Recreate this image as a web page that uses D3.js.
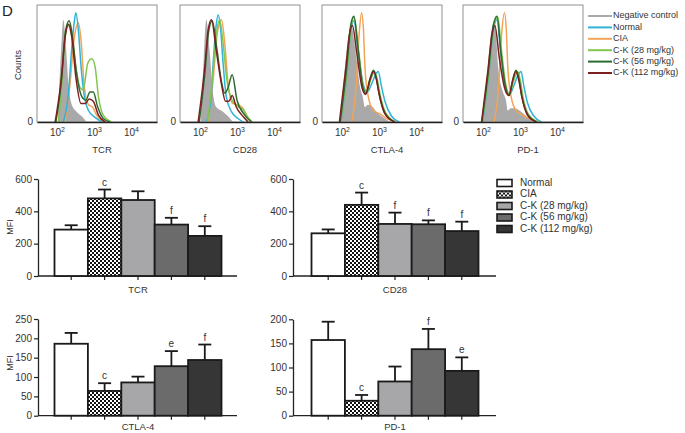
<!DOCTYPE html>
<html>
<head>
<meta charset="utf-8">
<script src="https://cdn.jsdelivr.net/npm/d3@7"></script>
<style>
body { margin: 0; background: #fff; }
svg { font-family: "Liberation Sans", Arial, sans-serif; }
</style>
</head>
<body>
<svg id="chart" width="685" height="433"></svg>
<script>
// ---- histogram data: [log10(intensity), % of max count] ----
const negTCR    = [[2.02,0],[2.11,62],[2.17,89],[2.23,71],[2.31,33],[2.40,15],[2.53,9],[2.67,5],[2.80,0]];
const normalTCR = [[2.17,0],[2.31,25],[2.40,65],[2.47,88],[2.51,95],[2.58,79],[2.65,48],[2.74,22],[2.85,10],[3.03,4],[3.21,0]];
const ciaTCR    = [[2.22,0],[2.35,33],[2.47,74],[2.58,86],[2.65,71],[2.74,30],[2.85,15],[2.96,13],[3.07,6],[3.30,0]];
const ck28TCR   = [[2.04,0],[2.13,33],[2.22,74],[2.31,84],[2.40,74],[2.51,48],[2.62,30],[2.71,28],[2.83,51],[2.94,55],[3.03,48],[3.12,22],[3.25,6],[3.48,0]];
const ck56TCR   = [[1.97,0],[2.13,39],[2.23,79],[2.33,88],[2.41,76],[2.53,42],[2.67,22],[2.78,19],[2.89,26],[2.98,26],[3.10,13],[3.25,3],[3.43,0]];
const ck112TCR  = [[1.95,0],[2.11,36],[2.22,74],[2.31,85],[2.40,74],[2.51,39],[2.65,16],[2.76,16],[2.87,20],[2.98,18],[3.12,6],[3.30,0]];

const negCD28    = [[2.02,0],[2.10,55],[2.17,89],[2.26,62],[2.35,25],[2.44,13],[2.62,9],[2.76,5],[2.89,0]];
const normalCD28 = [[2.17,0],[2.30,20],[2.35,48],[2.43,82],[2.49,93],[2.56,80],[2.62,53],[2.71,22],[2.85,9],[3.03,3],[3.16,0]];
const ciaCD28    = [[2.22,0],[2.35,35],[2.47,78],[2.58,89],[2.67,68],[2.76,33],[2.89,16],[3.03,15],[3.16,12],[3.30,3],[3.40,0]];
const ck28CD28   = [[2.20,0],[2.33,35],[2.45,78],[2.53,89],[2.62,70],[2.72,38],[2.85,20],[3.00,14],[3.16,11],[3.32,3],[3.42,0]];
const ck56CD28   = [[1.98,0],[2.13,42],[2.23,78],[2.33,88],[2.45,65],[2.58,35],[2.67,25],[2.76,30],[2.87,41],[3.00,19],[3.21,6],[3.39,0]];
const ck112CD28  = [[1.95,0],[2.13,48],[2.22,80],[2.31,89],[2.44,62],[2.58,33],[2.69,18],[2.78,18],[2.87,23],[2.98,13],[3.16,5],[3.30,0]];

const negCTLA4    = [[1.95,0],[2.08,48],[2.17,74],[2.26,84],[2.33,70],[2.40,53],[2.49,30],[2.56,22],[2.62,13],[2.70,15],[2.80,14],[2.93,9],[3.07,5],[3.30,0]];
const normalCTLA4 = [[1.97,0],[2.14,44],[2.25,82],[2.32,88],[2.44,60],[2.57,33],[2.68,26],[2.80,33],[2.92,42],[2.98,44],[3.06,32],[3.16,18],[3.34,5],[3.55,0]];
const ciaCTLA4    = [[2.26,0],[2.38,30],[2.46,75],[2.53,95],[2.58,80],[2.62,48],[2.71,22],[2.85,10],[3.03,7],[3.21,3],[3.48,0]];
const ck28CTLA4   = [[1.96,0],[2.14,45],[2.25,84],[2.33,91],[2.45,62],[2.57,31],[2.66,25],[2.77,36],[2.88,44],[2.96,36],[3.03,24],[3.18,8],[3.45,0]];
const ck56CTLA4   = [[1.95,0],[2.13,48],[2.24,85],[2.32,92],[2.44,62],[2.56,31],[2.65,25],[2.75,37],[2.85,45],[2.93,38],[3.00,25],[3.16,8],[3.43,0]];
const ck112CTLA4  = [[1.93,0],[2.10,46],[2.21,78],[2.28,84],[2.40,60],[2.54,30],[2.64,24],[2.75,36],[2.85,44],[2.93,37],[3.00,25],[3.16,7],[3.42,0]];

const negPD1    = [[1.97,0],[2.13,48],[2.23,80],[2.31,88],[2.36,72],[2.41,48],[2.53,27],[2.62,19],[2.67,10],[2.75,12],[2.85,12],[3.03,9],[3.21,4],[3.48,0]];
const normalPD1 = [[1.99,0],[2.16,42],[2.29,82],[2.38,89],[2.48,60],[2.61,31],[2.72,24],[2.84,32],[2.95,41],[3.03,44],[3.10,32],[3.20,17],[3.38,5],[3.58,0]];
const ciaPD1    = [[2.30,0],[2.42,30],[2.50,75],[2.58,95],[2.63,80],[2.67,48],[2.76,22],[2.89,10],[3.07,6],[3.25,3],[3.52,0]];
const ck28PD1   = [[1.98,0],[2.16,44],[2.29,84],[2.40,91],[2.50,62],[2.62,32],[2.72,24],[2.83,36],[2.94,44],[3.01,36],[3.08,22],[3.22,7],[3.48,0]];
const ck56PD1   = [[1.97,0],[2.15,45],[2.28,84],[2.38,92],[2.48,62],[2.60,32],[2.71,23],[2.80,36],[2.89,45],[2.97,38],[3.05,22],[3.20,7],[3.45,0]];
const ck112PD1  = [[1.96,0],[2.13,44],[2.24,76],[2.32,84],[2.44,56],[2.58,30],[2.70,23],[2.80,36],[2.89,44],[2.97,36],[3.05,22],[3.20,6],[3.44,0]];

const histSeries = ["Negative control", "Normal", "CIA", "C-K (28 mg/kg)", "C-K (56 mg/kg)", "C-K (112 mg/kg)"];
const histMarkers = ["TCR", "CD28", "CTLA-4", "PD-1"];
const histTicks = [2, 3, 4];

// ---- bar data (MFI) ----
const groups = ["Normal", "CIA", "C-K (28 mg/kg)", "C-K (56 mg/kg)", "C-K (112 mg/kg)"];
const tcrMean  = [287, 480, 470, 318, 248];
const tcrErr   = [314, 535, 524, 360, 308];
const tcrSig   = ["", "c", "", "f", "f"];
const cd28Mean = [264, 440, 322, 320, 278];
const cd28Err  = [288, 516, 392, 344, 336];
const cd28Sig  = ["", "c", "f", "f", "f"];
const ctlaMean = [186, 64, 86, 128, 144];
const ctlaErr  = [214, 84, 101, 167, 184];
const ctlaSig  = ["", "c", "", "e", "f"];
const pd1Mean  = [157, 31, 71, 138, 93];
const pd1Err   = [195, 43, 102, 180, 121];
const pd1Sig   = ["", "c", "", "f", "e"];

const lineColors = ["#a9a9a9", "#2fb3d6", "#f2a457", "#82c650", "#2d6a30", "#7b2020"];
const barFills = ["#ffffff", "url(#checks)", "#a7a7a9", "#6b6b6b", "#363636"];

const svg = d3.select("#chart");

// checkerboard pattern for CIA
const pat = svg.append("defs").append("pattern")
    .attr("id", "checks")
    .attr("width", 4).attr("height", 4)
    .attr("patternUnits", "userSpaceOnUse");
pat.append("rect").attr("width", 4).attr("height", 4).attr("fill", "#fff");
pat.append("rect").attr("width", 2).attr("height", 2).attr("fill", "#111");
pat.append("rect").attr("x", 2).attr("y", 2).attr("width", 2).attr("height", 2).attr("fill", "#111");

// ---------------- histograms ----------------
const curvesByMarker = [
    [negTCR, normalTCR, ciaTCR, ck28TCR, ck56TCR, ck112TCR],
    [negCD28, normalCD28, ciaCD28, ck28CD28, ck56CD28, ck112CD28],
    [negCTLA4, normalCTLA4, ciaCTLA4, ck28CTLA4, ck56CTLA4, ck112CTLA4],
    [negPD1, normalPD1, ciaPD1, ck28PD1, ck56PD1, ck112PD1]
];
const panelLeft = [37, 180, 322, 463];
const pw = 120;

const hx = d3.scaleLinear().domain([2 - 20 / 37, 2 + 100 / 37]).range([0, pw]);
const hy = d3.scaleLinear().domain([0, 100]).range([122, 7]);

const area = d3.area()
    .x(d => hx(d[0])).y0(hy(0)).y1(d => hy(d[1]))
    .curve(d3.curveMonotoneX);
const line = d3.line()
    .x(d => hx(d[0])).y(d => hy(d[1]))
    .curve(d3.curveMonotoneX);

const drawOrder = [2, 1, 3, 4, 5]; // lines on top of the grey fill

histMarkers.forEach((m, i) => {
    const g = svg.append("g").attr("transform", `translate(${panelLeft[i]},0)`);

    g.append("rect")
        .attr("x", 0).attr("y", 5).attr("width", pw).attr("height", 117)
        .attr("fill", "none").attr("stroke", "#777").attr("stroke-width", 0.8);

    const curves = curvesByMarker[i];
    g.append("path").datum(curves[0])
        .attr("d", area).attr("fill", lineColors[0]);

    drawOrder.forEach(k => {
        g.append("path").datum(curves[k])
            .attr("d", line)
            .attr("fill", "none")
            .attr("stroke", lineColors[k])
            .attr("stroke-width", 1.5);
    });

    // x axis
    const ax = g.append("g").attr("transform", "translate(0,122)")
        .call(d3.axisBottom(hx).tickValues(histTicks).tickSize(0).tickPadding(7).tickFormat(""));
    ax.select(".domain").attr("stroke", "#222").attr("stroke-width", 1.3);
    ax.selectAll(".tick text")
        .attr("font-size", 10).attr("fill", "#333")
        .each(function(d) {
            const t = d3.select(this);
            t.append("tspan").text("10");
            t.append("tspan").attr("dy", -4).attr("font-size", 7).text(d);
        });

    g.append("text")
        .attr("x", -4).attr("y", 122)
        .attr("text-anchor", "end").attr("dominant-baseline", "middle")
        .attr("font-size", 10).attr("fill", "#333").text("0");

    g.append("text")
        .attr("x", pw / 2 + 5).attr("y", 153)
        .attr("text-anchor", "middle")
        .attr("font-size", 9.5).attr("fill", "#333").text(m);
});

svg.append("text")
    .attr("transform", "translate(21,65) rotate(-90)")
    .attr("text-anchor", "middle")
    .attr("font-size", 9.5).attr("fill", "#333").text("Counts");

svg.append("text")
    .attr("x", 2).attr("y", 16)
    .attr("font-size", 15).attr("fill", "#222").text("D");

// histogram legend
const hl = svg.append("g").attr("transform", "translate(588,16)");
histSeries.forEach((s, i) => {
    const row = hl.append("g").attr("transform", `translate(0,${i * 11.4})`);
    row.append("line")
        .attr("x1", 0).attr("x2", 24)
        .attr("stroke", lineColors[i]).attr("stroke-width", 2);
    row.append("text")
        .attr("x", 25).attr("dominant-baseline", "middle")
        .attr("font-size", 9).attr("fill", "#333").text(s);
});

// ---------------- bar charts ----------------
function barChart(cfg) {
    const g = svg.append("g");
    const y = d3.scaleLinear().domain([0, cfg.max]).range([cfg.y0, cfg.yTop]);
    const x = d3.scaleBand().domain(groups)
        .range([cfg.x0 + cfg.gap, cfg.x0 + cfg.gap + 5 * cfg.bw]).padding(0);

    const yAx = g.append("g").attr("transform", `translate(${cfg.x0},0)`)
        .call(d3.axisLeft(y).tickValues(d3.range(0, cfg.max + 1, cfg.step))
            .tickSize(4).tickPadding(2).tickSizeOuter(0));
    yAx.select(".domain").attr("stroke", "#222").attr("stroke-width", 1.3);
    yAx.selectAll(".tick line").attr("stroke", "#222").attr("stroke-width", 1.2);
    yAx.selectAll(".tick text").attr("font-size", 10).attr("fill", "#333")
        .attr("font-family", "Liberation Sans, Arial, sans-serif");

    const xAx = g.append("g").attr("transform", `translate(0,${cfg.y0})`)
        .call(d3.axisBottom(x).tickSize(4).tickFormat(""));
    xAx.select(".domain").remove();
    xAx.selectAll(".tick line").attr("stroke", "#222").attr("stroke-width", 1.2);
    g.append("line")
        .attr("x1", cfg.x0).attr("x2", cfg.x0 + cfg.axisLen)
        .attr("y1", cfg.y0).attr("y2", cfg.y0)
        .attr("stroke", "#222").attr("stroke-width", 1.3);

    // error bars first so bar outline sits on top
    groups.forEach((grp, i) => {
        const cx = x(grp) + x.bandwidth() / 2;
        g.append("line")
            .attr("x1", cx).attr("x2", cx)
            .attr("y1", y(cfg.mean[i])).attr("y2", y(cfg.err[i]))
            .attr("stroke", "#1a1a1a").attr("stroke-width", 1.8);
        g.append("line")
            .attr("x1", cx - 6.5).attr("x2", cx + 6.5)
            .attr("y1", y(cfg.err[i])).attr("y2", y(cfg.err[i]))
            .attr("stroke", "#1a1a1a").attr("stroke-width", 1.8);
        if (cfg.sig[i]) {
            g.append("text")
                .attr("x", cx).attr("y", y(cfg.err[i]) - 4)
                .attr("text-anchor", "middle")
                .attr("font-size", 10).attr("fill", "#333").text(cfg.sig[i]);
        }
    });

    g.selectAll(".bar").data(groups).enter().append("rect")
        .attr("x", d => x(d))
        .attr("y", (d, i) => y(cfg.mean[i]))
        .attr("width", x.bandwidth())
        .attr("height", (d, i) => cfg.y0 - y(cfg.mean[i]))
        .attr("fill", (d, i) => barFills[i])
        .attr("stroke", "#1a1a1a").attr("stroke-width", 1.8);

    g.append("text")
        .attr("x", x.range()[0] + 2.5 * cfg.bw).attr("y", cfg.y0 + cfg.labelDy)
        .attr("text-anchor", "middle").attr("dominant-baseline", "middle")
        .attr("font-size", 9.5).attr("fill", "#333").text(cfg.label);

    if (cfg.mfi) {
        g.append("text")
            .attr("transform", `translate(13,${cfg.mfiY}) rotate(-90)`)
            .attr("text-anchor", "middle")
            .attr("font-size", 9).attr("fill", "#333").text("MFI");
    }
}

barChart({x0: 38, gap: 16.5, bw: 33.4, axisLen: 199, y0: 276, yTop: 179, max: 600, step: 200,
          mean: tcrMean, err: tcrErr, sig: tcrSig, label: "TCR", labelDy: 14, mfi: true, mfiY: 227});
barChart({x0: 293, gap: 18.5, bw: 33.4, axisLen: 203, y0: 276, yTop: 179, max: 600, step: 200,
          mean: cd28Mean, err: cd28Err, sig: cd28Sig, label: "CD28", labelDy: 14, mfi: false});
barChart({x0: 38, gap: 16.5, bw: 33.4, axisLen: 199, y0: 415.7, yTop: 319, max: 250, step: 50,
          mean: ctlaMean, err: ctlaErr, sig: ctlaSig, label: "CTLA-4", labelDy: 11.5, mfi: true, mfiY: 363});
barChart({x0: 293, gap: 18.5, bw: 33.4, axisLen: 203, y0: 415.7, yTop: 319.3, max: 200, step: 50,
          mean: pd1Mean, err: pd1Err, sig: pd1Sig, label: "PD-1", labelDy: 11.5, mfi: false});

// bar legend
const bl = svg.append("g").attr("transform", "translate(497,183)");
groups.forEach((grp, i) => {
    const row = bl.append("g").attr("transform", `translate(0,${i * 11.5})`);
    row.append("rect")
        .attr("x", 0).attr("y", -3.5).attr("width", 15).attr("height", 7)
        .attr("fill", barFills[i]).attr("stroke", "#1a1a1a").attr("stroke-width", 1.6);
    row.append("text")
        .attr("x", 23).attr("dominant-baseline", "middle")
        .attr("font-size", 10).attr("fill", "#333").text(grp);
});
</script>
</body>
</html>
